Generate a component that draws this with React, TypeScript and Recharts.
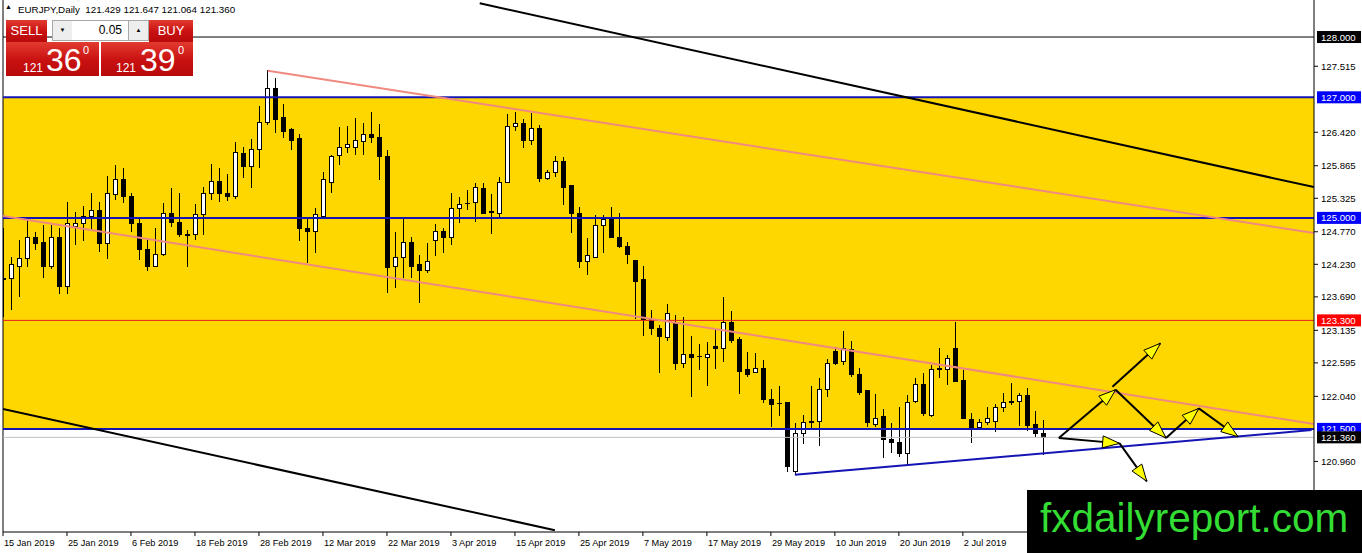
import React from 'react'
import {
  Bar,
  ComposedChart,
  ReferenceArea,
  ReferenceLine,
  XAxis,
  YAxis,
} from 'recharts'

// daily EURJPY candles, one per trading day from 15 Jan 2019
const opens = [
  124.0, 123.99, 124.2, 124.33, 124.67, 124.6, 124.19, 124.68, 123.87, 124.85,
  124.9, 125.02, 125.12, 124.58, 125.38, 125.63, 125.35, 124.9, 124.48, 124.2,
  124.4, 125.07, 124.93, 124.72, 124.73, 125.05, 125.4, 125.61, 125.41, 125.36,
  126.06, 125.86, 126.13, 126.59, 127.15, 126.66, 126.46, 126.31, 124.83, 124.77,
  125.03, 125.59, 126.03, 126.16, 126.16, 126.26, 126.39, 126.33, 126.01, 124.19,
  124.35, 124.6, 124.22, 124.12, 124.63, 124.78, 124.67, 125.16, 125.23, 125.25,
  125.48, 125.1, 125.08, 125.58, 126.51, 126.57, 126.29, 126.49, 125.66, 125.76,
  125.94, 125.53, 125.08, 124.27, 124.35, 124.87, 124.98, 124.68, 124.53, 124.29,
  123.97, 123.31, 123.16, 123.01, 123.24, 122.59, 122.73, 122.69, 122.68, 122.86,
  122.83, 123.26, 122.98, 122.48, 122.43, 122.51, 121.98, 121.91, 121.93, 120.8,
  121.42, 121.62, 121.62, 122.16, 122.78, 122.61, 122.81, 122.41, 122.13, 121.57,
  121.7, 121.32, 121.28, 121.1, 121.96, 122.23, 121.73, 122.48, 122.48, 122.84,
  122.3, 121.66, 121.53, 121.6, 121.63, 121.86, 121.93, 121.96, 122.05, 121.57,
  121.429,
]
const highs = [
  124.83, 124.35, 124.63, 125.0, 124.77, 124.88, 124.88, 124.83, 125.26, 125.1,
  125.2, 125.41, 125.26, 125.7, 125.88, 125.83, 125.41, 125.02, 124.65, 124.83,
  125.25, 125.5, 125.41, 124.8, 125.23, 125.51, 125.89, 125.83, 125.73, 126.26,
  126.18, 126.31, 126.86, 127.45, 127.32, 126.89, 126.49, 126.39, 124.98, 125.16,
  125.76, 126.04, 126.51, 126.52, 126.66, 126.57, 126.76, 126.56, 126.13, 124.77,
  125.0, 124.68, 124.38, 124.58, 124.9, 124.83, 125.41, 125.35, 125.46, 125.58,
  125.58, 125.4, 125.68, 126.72, 126.76, 126.64, 126.74, 126.54, 125.79, 126.03,
  126.01, 125.55, 125.18, 124.67, 125.05, 125.05, 125.18, 125.08, 124.6, 124.29,
  124.2, 123.47, 123.22, 123.57, 123.39, 123.36, 123.04, 122.91, 122.94, 123.14,
  123.69, 123.46, 123.03, 122.78, 122.76, 122.64, 122.16, 122.21, 121.95, 121.6,
  121.73, 122.21, 122.35, 122.66, 122.86, 123.12, 122.96, 122.51, 122.15, 122.08,
  121.83, 121.6, 121.86, 122.06, 122.34, 122.43, 122.56, 122.84, 122.73, 123.27,
  122.48, 121.76, 121.66, 121.86, 121.91, 122.1, 122.26, 122.1, 122.18, 121.8,
  121.647,
]
const lows = [
  123.35, 123.47, 123.69, 124.19, 124.47, 124.0, 124.15, 123.74, 123.74, 124.55,
  124.62, 124.82, 124.43, 124.32, 125.3, 125.25, 124.77, 124.3, 124.12, 124.19,
  124.37, 124.85, 124.68, 124.19, 124.63, 124.72, 125.3, 125.26, 125.28, 125.31,
  125.66, 125.5, 125.83, 126.54, 126.41, 126.33, 126.13, 124.62, 124.25, 124.42,
  125.03, 125.41, 125.88, 126.08, 126.04, 126.04, 126.24, 125.63, 123.75, 123.84,
  124.0, 124.0, 123.59, 124.09, 124.37, 124.42, 124.55, 124.92, 125.13, 124.93,
  125.08, 124.73, 125.0, 125.58, 126.44, 126.16, 126.21, 125.6, 125.63, 125.68,
  125.21, 124.75, 124.17, 124.05, 124.35, 124.42, 124.66, 124.5, 124.23, 123.32,
  123.04, 123.06, 122.43, 122.96, 122.48, 122.51, 122.03, 122.48, 122.21, 122.49,
  122.61, 122.93, 122.08, 122.36, 122.43, 121.93, 121.53, 121.71, 120.79, 120.74,
  121.25, 121.5, 121.22, 122.03, 122.56, 122.56, 122.36, 122.06, 121.53, 121.53,
  121.02, 121.1, 121.04, 120.9, 121.93, 121.71, 121.7, 122.35, 122.23, 122.28,
  121.66, 121.27, 121.52, 121.57, 121.45, 121.78, 121.9, 121.55, 121.47, 121.37,
  121.064,
]
const closes = [
  123.97, 124.22, 124.33, 124.68, 124.58, 124.19, 124.68, 123.87, 124.9, 124.9,
  125.02, 125.12, 124.58, 125.4, 125.63, 125.35, 124.9, 124.48, 124.19, 124.4,
  125.07, 124.93, 124.72, 124.71, 125.05, 125.41, 125.61, 125.41, 125.35, 126.08,
  125.86, 126.13, 126.59, 127.14, 126.64, 126.44, 126.29, 124.83, 124.78, 125.05,
  125.63, 126.01, 126.16, 126.21, 126.28, 126.39, 126.33, 126.01, 124.17, 124.35,
  124.6, 124.2, 124.12, 124.27, 124.78, 124.67, 125.16, 125.23, 125.24, 125.5,
  125.08, 125.09, 125.58, 126.51, 126.57, 126.28, 126.49, 125.66, 125.76, 125.93,
  125.51, 125.08, 124.27, 124.38, 124.88, 124.97, 124.67, 124.52, 124.4, 123.95,
  123.32, 123.16, 123.03, 123.42, 122.59, 122.73, 122.69, 122.7, 122.74, 122.83,
  123.26, 122.96, 122.46, 122.4, 122.51, 121.98, 121.91, 121.92, 120.87, 121.42,
  121.61, 121.6, 122.16, 122.58, 122.59, 122.83, 122.4, 122.11, 121.6, 121.68,
  121.32, 121.28, 121.09, 121.93, 122.23, 121.75, 122.48, 122.49, 122.66, 122.28,
  121.67, 121.53, 121.6, 121.68, 121.86, 121.93, 121.96, 122.05, 121.55, 121.42,
  121.36,
]

const dateLabels = [
  '15 Jan 2019', '25 Jan 2019', '6 Feb 2019', '18 Feb 2019', '28 Feb 2019',
  '12 Mar 2019', '22 Mar 2019', '3 Apr 2019', '15 Apr 2019', '25 Apr 2019',
  '7 May 2019', '17 May 2019', '29 May 2019', '10 Jun 2019', '20 Jun 2019',
  '2 Jul 2019',
]
const barsPerLabel = 8
const dateTickBars = dateLabels.map((_, i) => i * barsPerLabel)

const priceTicks = [
  127.515, 126.42, 125.865, 125.325, 124.77, 124.23, 123.69, 123.135, 122.595,
  122.04, 120.96, 120.42,
]
// horizontal levels drawn on the chart, each with a price tag on the axis
const levelPrices = [128, 127, 125, 123.3, 121.5, 121.36]
const supplyZone = [121.5, 127]

// trend lines as [bar, price] pairs
const channelTop = [[59.6, 128.56], [163.9, 125.51]]
const channelBottom = [[0, 121.83], [69, 119.82]]
const pinkUpper = [[33.1, 127.44], [163.9, 124.75]]
const pinkLower = [[0, 125.03], [163.9, 121.58]]
const supportLine = [[99, 120.74], [163.6, 121.48]]

// forecast arrows, each from one [bar, price] to another
const arrowPaths = [
  [[132, 121.35], [139.1, 122.15]],
  [[139.1, 122.15], [145.4, 121.35]],
  [[145.4, 121.35], [149.5, 121.84]],
  [[149.5, 121.84], [154.4, 121.37]],
  [[138.7, 122.2], [144.7, 122.92]],
  [[132, 121.35], [139.6, 121.26]],
  [[139.6, 121.26], [143.0, 120.63]],
]

const VIEW_BARS = 163.9
const PRICE_MIN = 119.79
const PRICE_MAX = 128.614

const levelColors = ['#000000', '#0000ff', '#0000ff', '#ff0000', '#0000ff', '#000000']
const lineBlue = '#1414b4'
const pink = '#f08a80'
const uiFont = "'Liberation Sans', Arial, sans-serif"

const candles = opens.map((open, i) => ({
  i,
  open,
  high: highs[i],
  low: lows[i],
  close: closes[i],
  range: [lows[i], highs[i]],
}))

const last = candles.length - 1
const titleText = `EURJPY,Daily  ${[opens[last], highs[last], lows[last], closes[last]]
  .map((v) => v.toFixed(3))
  .join(' ')}`

function Candle(props: any) {
  const { x, y, width, height, payload } = props
  if (payload == null) return null
  const cx = Math.round(x + width / 2) + 0.5
  const top = Math.min(y, y + height)
  const h = Math.abs(height)
  const span = payload.high - payload.low || 1
  const toY = (v: number) => top + ((payload.high - v) / span) * h
  const bodyTop = toY(Math.max(payload.open, payload.close))
  const bodyBot = toY(Math.min(payload.open, payload.close))
  const up = payload.close >= payload.open
  const bodyH = bodyBot - bodyTop
  return (
    <g shapeRendering="crispEdges">
      <line x1={cx} x2={cx} y1={top} y2={top + h} stroke="#000" strokeWidth={1} />
      {bodyH < 1.2 ? (
        <line x1={cx - 2.5} x2={cx + 2.5} y1={bodyTop} y2={bodyTop} stroke="#000" strokeWidth={1.5} />
      ) : (
        <rect
          x={cx - 2}
          y={bodyTop}
          width={4}
          height={bodyH}
          fill={up ? '#fff' : '#000'}
          stroke="#000"
          strokeWidth={1}
        />
      )}
    </g>
  )
}

function ArrowShape(props: any) {
  const { x1, y1, x2, y2 } = props
  const dx = x2 - x1
  const dy = y2 - y1
  const len = Math.hypot(dx, dy) || 1
  const ux = dx / len
  const uy = dy / len
  const L = 17
  const W = 6
  const bx = x2 - ux * L
  const by = y2 - uy * L
  const pts = `${x2},${y2} ${bx - uy * W},${by + ux * W} ${bx + uy * W},${by - ux * W}`
  return (
    <g>
      <line x1={x1} y1={y1} x2={x2} y2={y2} stroke="#000" strokeWidth={2} />
      <polygon points={pts} fill="#ffff00" stroke="#000" strokeWidth={1} />
    </g>
  )
}

function PriceTick(props: any) {
  const { x, y, payload } = props
  const v = payload.value as number
  const tag = levelPrices.indexOf(v)
  const label = v.toFixed(3)
  if (tag >= 0) {
    return (
      <g>
        <rect x={x - 4} y={y - 6} width={44} height={12} fill={levelColors[tag]} />
        <text x={x} y={y} dy={3.5} fill="#fff" fontSize={9.6} fontFamily={uiFont}>
          {label}
        </text>
      </g>
    )
  }
  return (
    <g>
      <line x1={x - 7} x2={x - 3} y1={y} y2={y} stroke="#000" />
      <text x={x} y={y} dy={3.5} fill="#000" fontSize={9.6} fontFamily={uiFont}>
        {label}
      </text>
    </g>
  )
}

function DateTick(props: any) {
  const { x, y, payload } = props
  return (
    <text x={x + 1} y={y} dy={7.5} textAnchor="start" fill="#000" fontSize={9.2} fontFamily={uiFont}>
      {dateLabels[Math.round(payload.value / barsPerLabel)]}
    </text>
  )
}

function seg(pair: number[][]) {
  return [
    { x: pair[0][0], y: pair[0][1] },
    { x: pair[1][0], y: pair[1][1] },
  ]
}

const redGrad = 'linear-gradient(#e23a30, #c81010 55%, #b80a0a)'

function TradePanel() {
  const abs = (s: React.CSSProperties): React.CSSProperties => ({ position: 'absolute', ...s })
  return (
    <div style={abs({ left: 0, top: 0, width: 200, height: 80, fontFamily: uiFont })}>
      <div style={abs({ left: 5, top: 3, fontSize: 7, color: '#000' })}>▲</div>
      <div style={abs({ left: 18, top: 4, fontSize: 9.8, color: '#000', whiteSpace: 'pre' })}>{titleText}</div>
      <div style={abs({ left: 6, top: 20, width: 41, height: 22, background: redGrad, color: '#fff', fontSize: 13, lineHeight: '21px', textAlign: 'center' })}>SELL</div>
      <div style={abs({ left: 52, top: 20, width: 19, height: 19, background: '#eeeeee', border: '1px solid #a8a8a8', fontSize: 6, lineHeight: '19px', textAlign: 'center' })}>▼</div>
      <div style={abs({ left: 72, top: 20, width: 50, height: 19, background: '#fff', borderTop: '1px solid #a8a8a8', borderBottom: '1px solid #a8a8a8', fontSize: 12, lineHeight: '19px', textAlign: 'right', paddingRight: 6 })}>0.05</div>
      <div style={abs({ left: 128, top: 20, width: 19, height: 19, background: '#eeeeee', border: '1px solid #a8a8a8', fontSize: 6, lineHeight: '19px', textAlign: 'center' })}>▲</div>
      <div style={abs({ left: 149, top: 20, width: 44, height: 22, background: redGrad, color: '#fff', fontSize: 13, lineHeight: '21px', textAlign: 'center' })}>BUY</div>
      <div style={abs({ left: 6, top: 42, width: 93, height: 34, background: redGrad })} />
      <div style={abs({ left: 101, top: 42, width: 92, height: 34, background: redGrad })} />
      <div style={abs({ left: 23, top: 62, fontSize: 12, lineHeight: 1, color: '#fff' })}>121</div>
      <div style={abs({ left: 46, top: 44, fontSize: 32, lineHeight: 1, color: '#fff' })}>36</div>
      <div style={abs({ left: 83, top: 45, fontSize: 11, lineHeight: 1, color: '#fff' })}>0</div>
      <div style={abs({ left: 116, top: 62, fontSize: 12, lineHeight: 1, color: '#fff' })}>121</div>
      <div style={abs({ left: 140, top: 44, fontSize: 32, lineHeight: 1, color: '#fff' })}>39</div>
      <div style={abs({ left: 178, top: 45, fontSize: 11, lineHeight: 1, color: '#fff' })}>0</div>
    </div>
  )
}

export default function App() {
  return (
    <div style={{ position: 'fixed', left: 0, top: 0, width: 1362, height: 553, background: '#fff', overflow: 'hidden' }}>
      <ComposedChart width={1362} height={553} data={candles} margin={{ top: 0, right: 0, bottom: 0, left: 3 }}>
        <XAxis
          type="number"
          dataKey="i"
          domain={[0, VIEW_BARS]}
          allowDataOverflow
          ticks={dateTickBars}
          interval={0}
          height={21}
          axisLine={{ stroke: '#000' }}
          tickLine={{ stroke: '#000' }}
          tickSize={4}
          tickMargin={2}
          tick={(p: any) => <DateTick {...p} />}
        />
        <YAxis
          orientation="right"
          domain={[PRICE_MIN, PRICE_MAX]}
          allowDataOverflow
          ticks={[...priceTicks, ...levelPrices]}
          interval={0}
          width={48}
          axisLine={{ stroke: '#000' }}
          tickLine={false}
          tickSize={4}
          tickMargin={3}
          tick={(p: any) => <PriceTick {...p} />}
        />
        <ReferenceArea
          x1={0}
          x2={VIEW_BARS}
          y1={supplyZone[0]}
          y2={supplyZone[1]}
          fill="#ffd700"
          fillOpacity={1}
          stroke="none"
        />
        <Bar dataKey="range" shape={(p: any) => <Candle {...p} />} barSize={6} isAnimationActive={false} />
        <ReferenceLine x={0} stroke="#000" strokeWidth={1} />
        <ReferenceLine y={levelPrices[0]} stroke="#000" strokeWidth={1} />
        <ReferenceLine y={levelPrices[1]} stroke={lineBlue} strokeWidth={2} />
        <ReferenceLine y={levelPrices[2]} stroke={lineBlue} strokeWidth={2} />
        <ReferenceLine y={levelPrices[3]} stroke="#e02020" strokeWidth={1} />
        <ReferenceLine y={levelPrices[4]} stroke={lineBlue} strokeWidth={2} />
        <ReferenceLine y={levelPrices[5]} stroke="#c0c0c0" strokeWidth={1} />
        <ReferenceLine segment={seg(pinkUpper)} stroke={pink} strokeWidth={2} ifOverflow="hidden" />
        <ReferenceLine segment={seg(pinkLower)} stroke={pink} strokeWidth={2} ifOverflow="hidden" />
        <ReferenceLine segment={seg(channelTop)} stroke="#000" strokeWidth={2} ifOverflow="hidden" />
        <ReferenceLine segment={seg(channelBottom)} stroke="#000" strokeWidth={2} ifOverflow="hidden" />
        <ReferenceLine segment={seg(supportLine)} stroke={lineBlue} strokeWidth={2} ifOverflow="hidden" />
        {arrowPaths.map((pair, n) => (
          <ReferenceLine key={n} segment={seg(pair)} shape={(p: any) => <ArrowShape {...p} />} ifOverflow="visible" />
        ))}
      </ComposedChart>
      <TradePanel />
      <div
        style={{
          position: 'absolute',
          left: 1027,
          top: 490,
          width: 335,
          height: 63,
          background: '#000',
          color: '#33dd33',
          fontFamily: uiFont,
          fontSize: 40.5,
          lineHeight: '40px',
          paddingLeft: 13,
          paddingTop: 8,
          boxSizing: 'border-box',
          whiteSpace: 'nowrap',
        }}
      >
        fxdailyreport.com
      </div>
    </div>
  )
}
